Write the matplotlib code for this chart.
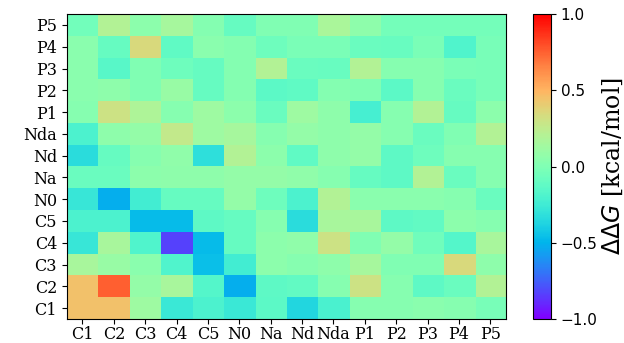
import numpy as np
import matplotlib
matplotlib.use("Agg")
import matplotlib.pyplot as plt

BEADS = ["C1", "C2", "C3", "C4", "C5", "N0", "Na", "Nd", "Nda",
         "P1", "P2", "P3", "P4", "P5"]

# rows from top (P5) to bottom (C1); columns C1 .. P5
ROW_P5 = [-0.05, 0.20, 0.05, 0.15, 0.02, -0.10, 0.00, 0.00, 0.17, 0.06, -0.04, -0.04, -0.04, -0.04]
ROW_P4 = [0.04, -0.10, 0.35, -0.12, 0.04, 0.02, -0.07, -0.02, -0.02, -0.08, -0.09, -0.02, -0.18, -0.03]
ROW_P3 = [0.04, -0.15, 0.00, -0.07, -0.10, 0.02, 0.20, -0.08, -0.09, 0.20, 0.03, 0.03, -0.02, -0.03]
ROW_P2 = [0.04, 0.06, 0.00, 0.10, -0.10, 0.02, -0.14, -0.12, 0.02, 0.00, -0.14, 0.03, -0.08, -0.03]
ROW_P1 = [0.03, 0.30, 0.18, 0.03, 0.12, 0.05, -0.08, 0.12, 0.06, -0.22, 0.03, 0.20, -0.10, 0.05]
ROW_NDA = [-0.20, 0.06, 0.08, 0.26, 0.12, 0.15, 0.03, 0.08, 0.06, 0.08, 0.03, -0.08, 0.00, 0.20]
ROW_ND = [-0.33, -0.10, 0.03, 0.07, -0.32, 0.20, 0.05, -0.12, 0.06, 0.08, -0.13, -0.07, 0.03, 0.03]
ROW_NA = [-0.08, -0.08, 0.05, 0.06, 0.06, 0.08, 0.08, 0.07, 0.03, -0.10, -0.13, 0.20, -0.08, 0.03]
ROW_N0 = [-0.28, -0.52, -0.24, -0.10, -0.10, 0.08, -0.07, -0.20, 0.20, 0.04, 0.04, 0.04, 0.03, -0.08]
ROW_C5 = [-0.20, -0.20, -0.47, -0.47, -0.13, -0.10, 0.03, -0.33, 0.16, 0.16, -0.13, -0.11, 0.05, 0.03]
ROW_C4 = [-0.28, 0.16, -0.18, -0.83, -0.47, -0.10, 0.05, 0.07, 0.30, 0.00, 0.08, -0.06, -0.17, 0.16]
ROW_C3 = [0.16, 0.10, 0.04, -0.18, -0.46, -0.24, 0.05, 0.03, 0.06, 0.15, 0.00, 0.00, 0.35, 0.06]
ROW_C2 = [0.45, 0.75, 0.08, 0.16, -0.17, -0.52, -0.13, -0.11, 0.03, 0.30, 0.03, -0.13, -0.08, 0.20]
ROW_C1 = [0.45, 0.45, 0.12, -0.27, -0.20, -0.27, -0.14, -0.36, -0.21, 0.03, 0.03, 0.04, 0.03, -0.03]

ddg = np.array([ROW_P5, ROW_P4, ROW_P3, ROW_P2, ROW_P1, ROW_NDA, ROW_ND,
                ROW_NA, ROW_N0, ROW_C5, ROW_C4, ROW_C3, ROW_C2, ROW_C1])
row_labels = BEADS[::-1]

fig = plt.figure(figsize=(6.24, 3.43), dpi=100)
ax = fig.add_axes([0.107, 0.07, 0.704, 0.889])
cax = fig.add_axes([0.854, 0.07, 0.029, 0.889])

im = ax.imshow(ddg, cmap="rainbow", vmin=-1, vmax=1, aspect="auto")
ax.set_xticks(range(len(BEADS)))
ax.set_xticklabels(BEADS, fontfamily="serif", fontsize=11.5)
ax.set_yticks(range(len(row_labels)))
ax.set_yticklabels(row_labels, fontfamily="serif", fontsize=11.5)
ax.tick_params(axis="x", pad=1.5)

cb = fig.colorbar(im, cax=cax, ticks=[-1, -0.5, 0, 0.5, 1])
cb.ax.tick_params(labelsize=11)
cb.set_label(r"$\Delta\Delta G$ [kcal/mol]", fontfamily="serif", fontsize=17,
             labelpad=2)

plt.savefig("out.png", dpi=100)
plt.close()
